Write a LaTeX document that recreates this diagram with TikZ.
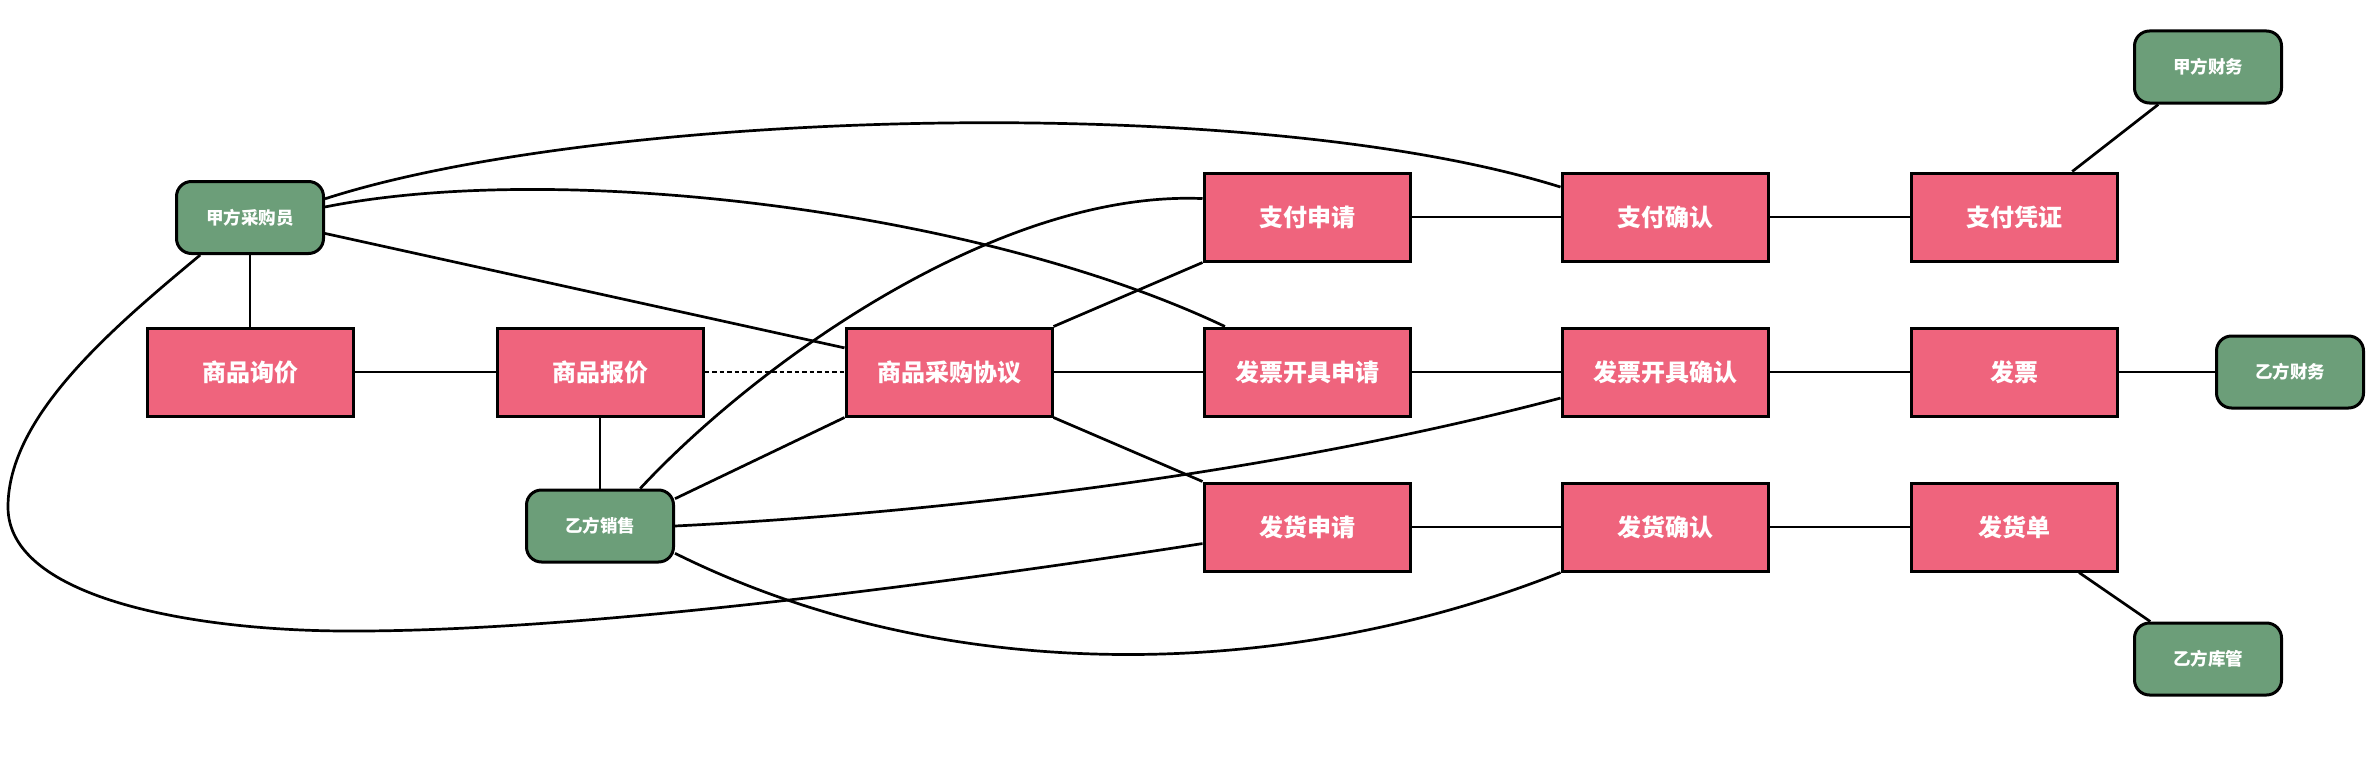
\documentclass[tikz,border=0pt]{standalone}
\usepackage{fontspec}
\setmainfont{Noto Sans CJK SC}
\usetikzlibrary{backgrounds}
\definecolor{boxred}{RGB}{239,100,125}
\definecolor{boxgreen}{RGB}{108,158,121}
\begin{document}
\begin{tikzpicture}[x=1pt,y=-1pt,
  redbox/.style={rectangle, draw=black, line width=3pt, fill=boxred,
    minimum width=206pt, minimum height=88pt, inner sep=0pt, text=white,
    font=\bfseries\fontsize{24}{28}\selectfont},
  greenbox/.style={rectangle, rounded corners=15pt, draw=black, line width=3pt,
    fill=boxgreen, minimum width=147pt, minimum height=72pt, inner sep=0pt,
    text=white, font=\bfseries\fontsize{17.5}{20}\selectfont},
  conn/.style={draw=black, line width=2.7pt},
  dotconn/.style={conn, line width=2.8pt, dash pattern=on 4.5pt off 3pt}]
\useasboundingbox (0,0) rectangle (2374,760);
% nodes
\node[greenbox] (jfcg) at (250,217.5) {甲方采购员};
\node[redbox] (xunjia) at (250,372) {商品询价};
\node[redbox] (baojia) at (600,372) {商品报价};
\node[redbox] (xieyi) at (949,372) {商品采购协议};
\node[greenbox] (yfxs) at (600,526) {乙方销售};
\node[redbox] (zfsq) at (1307,217) {支付申请};
\node[redbox] (fpsq) at (1307,372) {发票开具申请};
\node[redbox] (fhsq) at (1307,527) {发货申请};
\node[redbox] (zfqr) at (1665,217) {支付确认};
\node[redbox] (fpqr) at (1665,372) {发票开具确认};
\node[redbox] (fhqr) at (1665,527) {发货确认};
\node[redbox] (zfpz) at (2014,217) {支付凭证};
\node[redbox] (fp) at (2014,372) {发票};
\node[redbox] (fhd) at (2014,527) {发货单};
\node[greenbox] (jfcw) at (2208,67) {甲方财务};
\node[greenbox] (yfcw) at (2290,372) {乙方财务};
\node[greenbox] (yfkg) at (2208,659) {乙方库管};
% connectors
\begin{scope}[on background layer]
\draw[conn] (jfcg.south) -- (xunjia.north);
\draw[conn] (xunjia) -- (baojia);
\draw[dotconn] (baojia) -- (xieyi);
\draw[conn] (baojia.south) -- (yfxs.north);
\draw[conn] (xieyi) -- (fpsq);
\draw[conn] (xieyi.north east) -- (zfsq.south west);
\draw[conn] (xieyi.south east) -- (fhsq.north west);
\draw[conn] (yfxs.20) -- (xieyi.south west);
\draw[conn] (jfcg.-12) -- (xieyi.167);
\draw[conn] (jfcg.14) .. controls (600,110) and (1250,90) .. (zfqr.164);
\draw[conn] (jfcg.8) .. controls (560,160) and (980,210) .. (fpsq.151);
\draw[conn] (jfcg.217) .. controls (110,330) and (8,417) .. (8,507)
  .. controls (8,600) and (200,631) .. (348,631)
  .. controls (600,632) and (1000,575) .. (fhsq.189);
\draw[conn] (yfxs.43) .. controls (760,360) and (1000,190) .. (zfsq.170);
\draw[conn] (yfxs.east) .. controls (900,515) and (1250,480) .. (fpqr.194);
\draw[conn] (yfxs.-20) .. controls (950,690) and (1290,680) .. (fhqr.south west);
\draw[conn] (zfsq) -- (zfqr);
\draw[conn] (zfqr) -- (zfpz);
\draw[conn] (fpsq) -- (fpqr);
\draw[conn] (fpqr) -- (fp);
\draw[conn] (fp) -- (yfcw);
\draw[conn] (fhsq) -- (fhqr);
\draw[conn] (fhqr) -- (fhd);
\draw[conn] (zfpz.38) -- (jfcw.217);
\draw[conn] (fhd.-35) -- (yfkg.147);
\end{scope}
\end{tikzpicture}
\end{document}
